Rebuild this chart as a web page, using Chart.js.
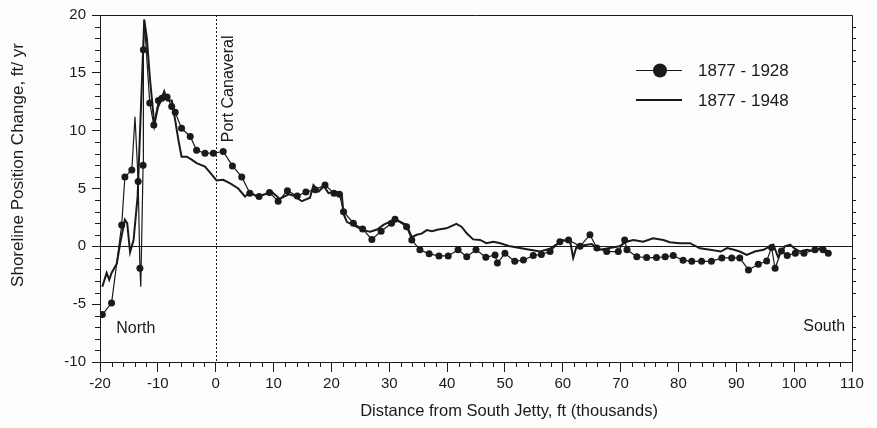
<!DOCTYPE html>
<html lang="en">
<head>
<meta charset="UTF-8">
<title>Shoreline Position Change</title>
<script src="https://cdn.jsdelivr.net/npm/chart.js"></script>
<style>
  html, body { margin: 0; padding: 0; background: #fdfdfd; }
  #wrap { width: 877px; height: 428px; }
</style>
</head>
<body>
<div id="wrap"><canvas id="chartCanvas" width="877" height="428"></canvas></div>
<script>
// 1877 - 1928 (line with dots), distance in thousands of ft, change in ft/yr
const x1928 = [-19.6, -18.0, -16.25, -15.7, -14.5, -13.95, -13.4, -13.1, -12.95, -12.55, -12.5, -12.35,
  -11.4, -10.7, -9.9, -9.3, -8.4, -7.6, -7.0, -5.9, -4.4, -3.3, -1.85, -0.4, 1.3, 2.9, 4.5, 5.9,
  7.5, 9.3, 10.8, 12.4, 14.1, 15.6, 17.2, 18.9, 20.45, 21.4, 22.1, 23.8, 25.4, 27.0, 28.6, 30.4,
  31.0, 33.0, 33.9, 35.3, 36.9, 38.6, 40.2, 41.9, 43.4, 45.0, 46.7, 48.3, 48.7, 50.0, 51.7, 53.2,
  54.9, 56.3, 57.8, 59.5, 61.0, 63.0, 64.7, 65.9, 67.6, 69.6, 70.7, 71.1, 72.8, 74.5, 76.2, 77.7,
  79.1, 80.8, 82.3, 84.0, 85.7, 87.5, 89.2, 90.6, 92.1, 93.8, 95.25, 96.1, 96.7, 97.8, 98.8,
  100.2, 101.7, 103.6, 105.0, 105.9]
const y1928 = [-5.9, -4.9, 1.85, 6.0, 6.6, 11.2, 5.6, -1.9, -3.5, 7.0, 17.0, 19.6,
  12.4, 10.5, 12.6, 12.8, 12.9, 12.1, 11.6, 10.2, 9.5, 8.3, 8.05, 8.05, 8.2, 6.95, 6.0, 4.6,
  4.3, 4.65, 3.9, 4.8, 4.35, 4.7, 4.9, 5.3, 4.6, 4.5, 3.0, 2.0, 1.5, 0.6, 1.3, 2.0,
  2.35, 1.7, 0.55, -0.3, -0.65, -0.83, -0.83, -0.3, -0.9, -0.3, -0.95, -0.75, -1.45, -0.6, -1.3, -1.18,
  -0.8, -0.7, -0.45, 0.4, 0.55, 0.0, 1.0, -0.15, -0.45, -0.45, 0.55, -0.3, -0.9, -0.97, -0.97, -0.9,
  -0.8, -1.2, -1.3, -1.3, -1.3, -1.0, -1.0, -1.0, -2.04, -1.55, -1.27, -0.1, -1.9, -0.4, -0.8,
  -0.6, -0.6, -0.3, -0.3, -0.6]
// sharp peaks on the 1928 line that carry no dot
const undotted1928 = [-13.95, -12.95, -12.35]

// 1877 - 1948 (plain line)
const x1948 = [-19.6, -18.85, -18.4, -18.0, -17.1, -16.5, -15.7, -15.3, -14.8, -14.2, -13.5, -12.35,
  -11.9, -11.35, -10.6, -10.0, -9.5, -8.9, -8.4, -7.6, -7.0, -6.45, -5.9, -5.0, -4.15, -3.3, -1.85,
  -1.0, 0.15, 1.3, 2.5, 3.9, 5.07, 5.9, 7.1, 8.5, 9.7, 11.1, 12.6, 13.4, 14.9, 16.3, 16.9, 17.8,
  18.7, 19.5, 20.6, 21.8, 22.1, 22.7, 23.8, 25.4, 26.7, 27.9, 29.0, 31.0, 33.0, 33.9, 34.75, 35.6,
  36.5, 37.4, 38.5, 39.9, 41.6, 42.5, 43.4, 44.5, 45.7, 46.8, 48.0, 49.2, 50.9, 52.6, 54.3, 56.1,
  57.8, 58.9, 60.1, 61.3, 61.8, 62.4, 63.6, 65.0, 66.4, 68.1, 69.8, 71.0, 72.2, 73.9, 75.6, 77.4,
  78.5, 80.2, 82.0, 83.7, 85.5, 87.3, 88.4, 89.6, 90.6, 91.8, 93.2, 94.7, 95.8, 96.4, 97.2, 98.4,
  99.3, 100.1, 101.0, 102.2, 103.3, 104.5, 105.4, 105.9]
const y1948 = [-3.5, -2.3, -2.9, -2.3, -1.5, 0.3, 2.3, 2.0, -0.5, 0.55, 4.3, 19.6,
  18.0, 14.4, 10.5, 12.0, 12.6, 13.4, 12.6, 12.6, 10.9, 9.2, 7.75, 7.75, 7.5, 7.2, 6.9,
  6.4, 5.7, 5.75, 5.45, 5.0, 4.3, 4.7, 4.3, 4.5, 4.7, 4.1, 4.5, 4.4, 3.9, 4.2, 5.3, 4.75,
  5.2, 4.6, 4.75, 4.45, 2.8, 2.1, 1.85, 1.4, 1.27, 1.45, 1.85, 2.35, 1.85, 0.8, 1.0, 1.1,
  1.4, 1.3, 1.45, 1.56, 1.94, 1.7, 1.13, 0.6, 0.55, 0.27, 0.4, 0.27, 0.0, -0.15, -0.3, -0.45,
  -0.2, 0.15, 0.55, 0.4, -1.0, 0.0, 0.1, 0.2, -0.3, -0.15, 0.0, 0.4, 0.55, 0.4, 0.7, 0.55,
  0.35, 0.27, 0.27, -0.17, -0.3, -0.45, -0.15, -0.3, -0.45, -0.75, -0.45, -0.3, 0.0, 0.15, -0.9, 0.0,
  0.15, -0.2, -0.45, -0.3, -0.4, -0.15, -0.3, -0.5]

const xTicks = [-20, -10, 0, 10, 20, 30, 40, 50, 60, 70, 80, 90, 100, 110]
const yTicks = [-10, -5, 0, 5, 10, 15, 20]
const seriesNames = ["1877 - 1928", "1877 - 1948"]
const xTitle = "Distance from South Jetty, ft (thousands)"
const yTitle = "Shoreline Position Change, ft/ yr"

const ink = "#1a1a1a"
const font = "Liberation Sans"

function toPoints(xs, ys){
  return xs.map((v, i) => ({x: v, y: ys[i]}))
}

// frame, minor ticks, reference lines, labels and legend
const extras = {
  id: "extras",
  beforeDatasetsDraw(chart){
    const {ctx, chartArea: a, scales: {x, y}} = chart
    ctx.save()
    ctx.strokeStyle = ink
    ctx.lineWidth = 1
    // zero line
    const y0 = Math.round(y.getPixelForValue(0)) + 0.5
    ctx.beginPath(); ctx.moveTo(a.left, y0); ctx.lineTo(a.right, y0); ctx.stroke()
    // Port Canaveral dotted line
    const x0 = Math.round(x.getPixelForValue(0)) + 0.5
    ctx.setLineDash([2, 2])
    ctx.beginPath(); ctx.moveTo(x0, a.top); ctx.lineTo(x0, a.bottom); ctx.stroke()
    ctx.restore()
  },
  afterDraw(chart){
    const {ctx, chartArea: a, scales: {x, y}} = chart
    ctx.save()
    ctx.strokeStyle = ink
    ctx.lineWidth = 1
    // top and right border
    ctx.beginPath()
    ctx.moveTo(a.left, a.top + 0.5); ctx.lineTo(a.right + 0.5, a.top + 0.5); ctx.lineTo(a.right + 0.5, a.bottom)
    ctx.stroke()
    // minor ticks
    ctx.beginPath()
    for (let v = -20; v <= 110; v += 2){
      if (v % 10 === 0) continue
      const px = Math.round(x.getPixelForValue(v)) + 0.5
      ctx.moveTo(px, a.bottom); ctx.lineTo(px, a.bottom + 5)
    }
    for (let v = -10; v <= 20; v += 1){
      if (v % 5 === 0) continue
      const py = Math.round(y.getPixelForValue(v)) + 0.5
      ctx.moveTo(a.left - 5, py); ctx.lineTo(a.left, py)
      ctx.moveTo(a.right, py); ctx.lineTo(a.right + 4, py)
    }
    ctx.stroke()

    // axis titles (they sit off-centre in the original)
    ctx.fillStyle = ink
    ctx.textBaseline = "middle"
    ctx.textAlign = "center"
    ctx.font = "16.5px '" + font + "'"
    ctx.fillText(xTitle, 509, 411)
    ctx.save()
    ctx.translate(18, 165)
    ctx.rotate(-Math.PI / 2)
    ctx.font = "17px '" + font + "'"
    ctx.fillText(yTitle, 0, 0)
    ctx.restore()

    // text labels
    ctx.font = "16px '" + font + "'"
    ctx.textAlign = "left"
    ctx.fillText("North", x.getPixelForValue(-17.2), y.getPixelForValue(-7.1))
    ctx.textAlign = "right"
    ctx.fillText("South", x.getPixelForValue(108.8), y.getPixelForValue(-6.9))
    ctx.save()
    ctx.translate(x.getPixelForValue(2.2), y.getPixelForValue(9.0))
    ctx.rotate(-Math.PI / 2)
    ctx.textAlign = "left"
    ctx.fillText("Port Canaveral", 0, 0)
    ctx.restore()

    // legend
    const lx = 636, rows = [70.5, 100]
    ctx.textAlign = "left"
    ctx.font = "17px '" + font + "'"
    ctx.beginPath(); ctx.lineWidth = 1
    ctx.moveTo(lx, rows[0]); ctx.lineTo(lx + 46, rows[0]); ctx.stroke()
    ctx.beginPath(); ctx.arc(lx + 24, rows[0], 7, 0, Math.PI * 2); ctx.fill()
    ctx.beginPath(); ctx.lineWidth = 2
    ctx.moveTo(lx, rows[1]); ctx.lineTo(lx + 46, rows[1]); ctx.stroke()
    ctx.fillText(seriesNames[0], 698, rows[0] + 1)
    ctx.fillText(seriesNames[1], 698, rows[1] + 1)
    ctx.restore()
  }
}

const ctx = document.getElementById("chartCanvas").getContext("2d")
new Chart(ctx, {
  type: "line",
  data: {
    datasets: [{
      label: seriesNames[0],
      data: toPoints(x1928, y1928),
      borderColor: ink,
      backgroundColor: ink,
      borderWidth: 1.2,
      pointRadius: c => undotted1928.includes(c.raw.x) ? 0 : 3.5,
      pointBorderWidth: 0,
      tension: 0
    }, {
      label: seriesNames[1],
      data: toPoints(x1948, y1948),
      borderColor: ink,
      borderWidth: 2,
      pointRadius: 0,
      tension: 0
    }]
  },
  options: {
    responsive: false,
    animation: false,
    layout: { padding: { top: 15, right: 25, left: 0, bottom: 0 } },
    plugins: { legend: { display: false }, tooltip: { enabled: false } },
    scales: {
      x: {
        type: "linear",
        min: -20,
        max: 110,
        afterBuildTicks: axis => { axis.ticks = xTicks.map(v => ({value: v})) },
        afterFit: axis => { axis.height = 66 },
        grid: { drawOnChartArea: false, tickLength: 10, tickColor: ink },
        border: { color: ink, width: 1 },
        ticks: { color: ink, padding: 3, maxRotation: 0, font: { family: font, size: 15 } }
      },
      y: {
        type: "linear",
        min: -10,
        max: 20,
        afterBuildTicks: axis => { axis.ticks = yTicks.map(v => ({value: v})) },
        afterFit: axis => { axis.width = 100 },
        grid: { drawOnChartArea: false, tickLength: 8, tickColor: ink },
        border: { color: ink, width: 1 },
        ticks: { color: ink, padding: 6, font: { family: font, size: 15 } }
      }
    }
  },
  plugins: [extras]
})
</script>
</body>
</html>
